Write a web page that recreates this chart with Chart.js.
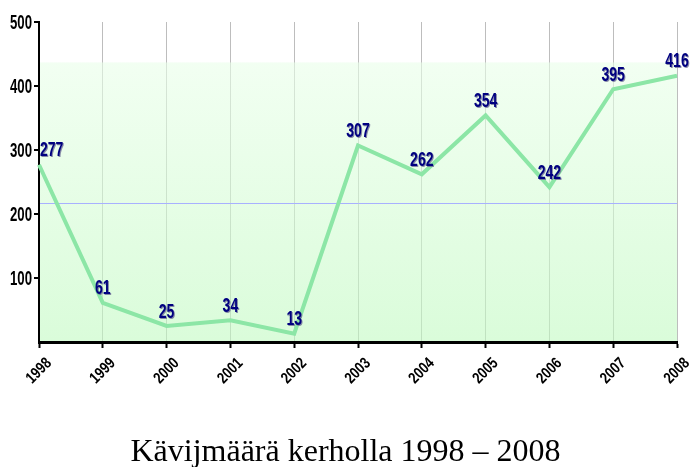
<!DOCTYPE html>
<html>
<head>
<meta charset="utf-8">
<style>
  html, body { margin: 0; padding: 0; background: #fff; }
  #chart { display: block; }
</style>
<script src="https://cdn.jsdelivr.net/npm/chart.js@4/dist/chart.umd.min.js"></script>
</head>
<body>
<canvas id="chart" width="691" height="467"></canvas>
<script>
const years = ['1998', '1999', '2000', '2001', '2002', '2003', '2004', '2005', '2006', '2007', '2008'];
const visitors = [277, 61, 25, 34, 13, 307, 262, 354, 242, 395, 416];
const yTicks = [100, 200, 300, 400, 500];
const chartTitle = 'Kävijmäärä kerholla 1998 – 2008';

const sans = "'Liberation Sans', Arial, sans-serif";

// draws condensed text (the original uses a squeezed bold face)
function squeezed(ctx, text, x, y, sx) {
  ctx.save();
  ctx.translate(x, y);
  ctx.scale(sx, 1);
  ctx.fillText(text, 0, 0);
  ctx.restore();
}

// green panel behind the line, plus the average line
const panelPlugin = {
  id: 'panel',
  beforeDatasetsDraw(chart) {
    const { ctx, chartArea } = chart;
    const y = chart.scales.y;
    const top = y.getPixelForValue(Math.max(...visitors) * 1.05);
    const grad = ctx.createLinearGradient(0, top, 0, chartArea.bottom);
    grad.addColorStop(0, 'rgba(233,255,233,0.6)');
    grad.addColorStop(1, 'rgba(193,250,193,0.6)');
    ctx.save();
    ctx.fillStyle = grad;
    ctx.fillRect(chartArea.left + 1, top, chartArea.right - chartArea.left - 1, chartArea.bottom - top - 1);

    const avg = visitors.reduce((a, b) => a + b, 0) / visitors.length;
    const ay = Math.round(y.getPixelForValue(avg)) + 0.5;
    ctx.strokeStyle = '#a8b0ff';
    ctx.lineWidth = 1;
    ctx.beginPath();
    ctx.moveTo(chartArea.left + 1, ay);
    ctx.lineTo(chartArea.right, ay);
    ctx.stroke();
    ctx.restore();
  }
};

const labelPlugin = {
  id: 'labels',
  afterDatasetsDraw(chart) {
    const { ctx } = chart;
    const meta = chart.getDatasetMeta(0);
    ctx.save();
    ctx.font = 'bold 20px ' + sans;
    ctx.textBaseline = 'middle';
    ctx.fillStyle = '#000080';
    ctx.shadowColor = 'rgba(110,110,150,0.8)';
    ctx.shadowOffsetX = 1;
    ctx.shadowOffsetY = 1;
    ctx.shadowBlur = 0;
    meta.data.forEach((pt, i) => {
      ctx.textAlign = i === 0 ? 'left' : 'center';
      const x = i === 0 ? pt.x + 1 : pt.x;
      squeezed(ctx, String(visitors[i]), x, pt.y - 14, 0.7);
    });
    ctx.restore();
  },
  afterDraw(chart) {
    const { ctx } = chart;
    const xs = chart.scales.x;
    const ys = chart.scales.y;

    // y tick labels
    ctx.save();
    ctx.font = 'bold 20px ' + sans;
    ctx.fillStyle = '#000';
    ctx.textAlign = 'right';
    ctx.textBaseline = 'middle';
    yTicks.forEach(v => {
      squeezed(ctx, String(v), 32, ys.getPixelForValue(v) + 1, 0.66);
    });
    ctx.restore();

    // rotated year labels
    ctx.save();
    ctx.font = 'bold 16px ' + sans;
    ctx.fillStyle = '#000';
    ctx.textAlign = 'center';
    ctx.textBaseline = 'middle';
    years.forEach((yr, i) => {
      ctx.save();
      ctx.translate(xs.getPixelForValue(i), 371);
      ctx.rotate(-Math.PI / 4);
      ctx.scale(0.8, 1);
      ctx.fillText(yr, 0, 0);
      ctx.restore();
    });
    ctx.restore();

    ctx.save();
    ctx.font = "32px 'Liberation Serif', 'Times New Roman', serif";
    ctx.fillStyle = '#000';
    ctx.textAlign = 'center';
    ctx.textBaseline = 'alphabetic';
    ctx.fillText(chartTitle, chart.width / 2, 461);
    ctx.restore();
  }
};

new Chart(document.getElementById('chart'), {
  type: 'line',
  data: {
    labels: years,
    datasets: [{
      data: visitors,
      borderColor: '#8ce6a6',
      borderWidth: 4,
      pointRadius: 0,
      tension: 0,
      fill: false
    }]
  },
  options: {
    responsive: false,
    animation: false,
    layout: { padding: { top: 22, right: 14, left: 0, bottom: 0 } },
    plugins: {
      legend: { display: false },
      tooltip: { enabled: false },
      title: { display: false }
    },
    scales: {
      x: {
        offset: false,
        afterFit(scale) { scale.height = 125; },
        grid: {
          color: '#bdbdbd',
          lineWidth: 1,
          tickColor: '#000',
          tickLength: 6,
          tickWidth: 2
        },
        border: { color: '#000', width: 3 },
        ticks: { display: false }
      },
      y: {
        min: 0,
        max: 500,
        afterFit(scale) { scale.width = 39; },
        afterBuildTicks(scale) {
          scale.ticks = yTicks.map(v => ({ value: v }));
        },
        grid: {
          drawOnChartArea: false,
          color: '#000',
          tickLength: 5,
          lineWidth: 2
        },
        border: { color: '#000', width: 2 },
        ticks: { display: false }
      }
    }
  },
  plugins: [panelPlugin, labelPlugin]
});
</script>
</body>
</html>
